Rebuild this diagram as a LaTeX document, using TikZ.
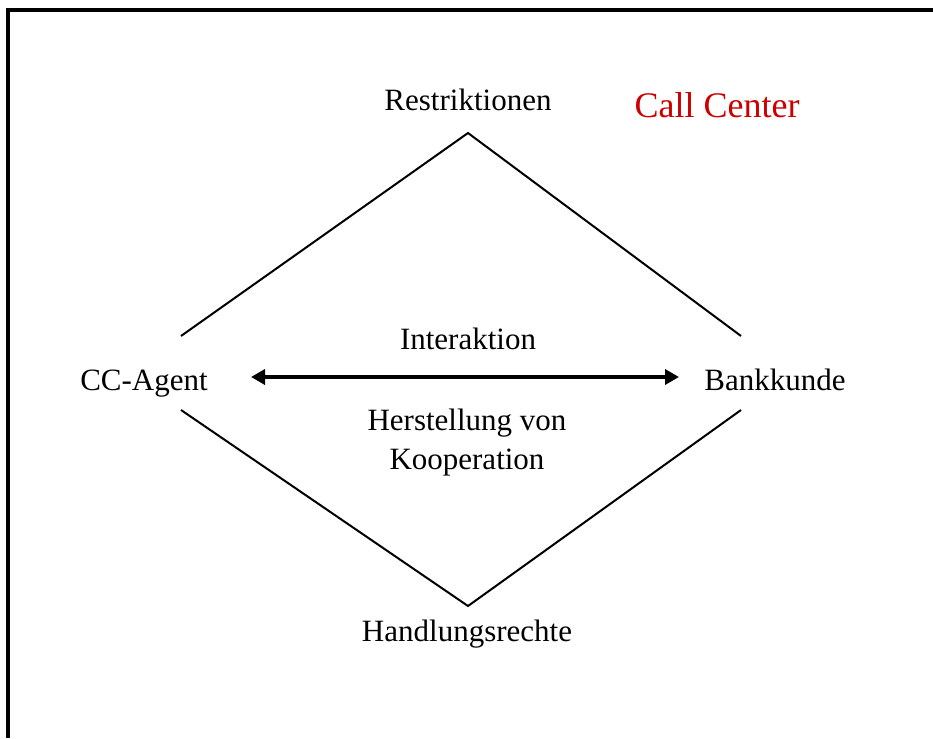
\documentclass[tikz,border=0pt]{standalone}
\usepackage{fontspec}
\setmainfont{Liberation Serif}
\usepackage{tikz}
\usetikzlibrary{arrows.meta,positioning}

\definecolor{ccred}{RGB}{204,0,0}

\begin{document}
\begin{tikzpicture}[x=1pt,y=-1pt,
    lbl/.style={anchor=base,inner sep=0pt,font=\fontsize{31}{39}\selectfont},
    edge/.style={line width=2pt},
    frame/.style={line width=3.5pt}]
    \useasboundingbox (0,0) rectangle (933,738);
    % frame
    \draw[frame] (8,738) -- (8,10) -- (933,10);
    \node[lbl] (restr) at (468,111) {Restriktionen};
    \node[lbl,text=ccred,font=\fontsize{36}{44}\selectfont] (callc) at (717,118) {Call Center};
    \node[lbl] (agent) at (144,390) {CC-Agent};
    \node[lbl] (kunde) at (775,390) {Bankkunde};
    \node[lbl] (interakt) at (468,349) {Interaktion};
    \node[lbl] (herst) at (467,430) {Herstellung von};
    \node[lbl] (koop) at (467,469) {Kooperation};
    \node[lbl] (handl) at (467,641) {Handlungsrechte};
    % diamond corners
    \coordinate (top) at (468,133);
    \coordinate (bot) at (468,606);
    \coordinate (lu) at (181,336);
    \coordinate (ld) at (181,410);
    \coordinate (ru) at (741,336);
    \coordinate (rd) at (741,410);
    \coordinate (al) at (251,377);
    \coordinate (ar) at (679,377);
    \draw[edge] (lu) -- (top) -- (ru);
    \draw[edge] (ld) -- (bot) -- (rd);
    \draw[line width=3.5pt,{Triangle[length=14pt,width=15pt]}-{Triangle[length=14pt,width=15pt]}] (al) -- (ar);
\end{tikzpicture}
\end{document}
